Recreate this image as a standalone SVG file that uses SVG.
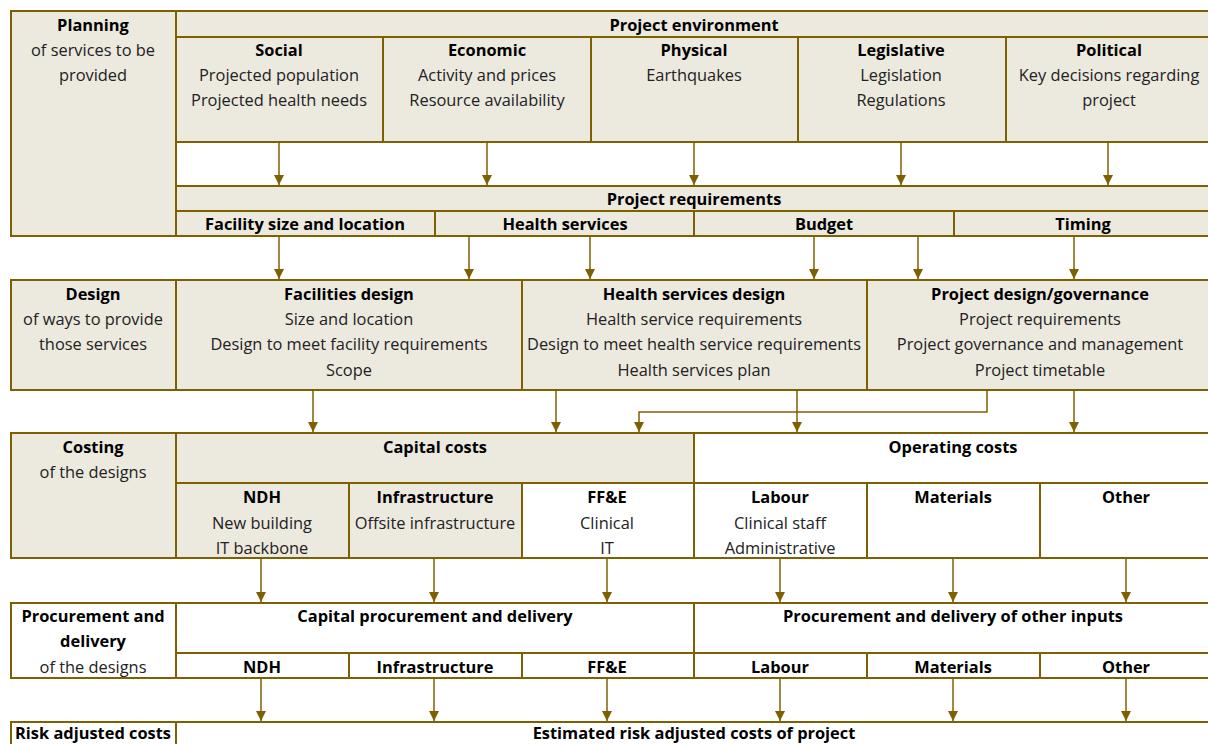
<svg xmlns="http://www.w3.org/2000/svg" width="1208" height="744" viewBox="0 0 1208 744">
<style>
.b{fill:#ECE9DF;stroke:#7F6000;stroke-width:2}
.w{fill:#FFFFFF;stroke:#7F6000;stroke-width:2}
text{font-family:"Open Sans","Noto Sans","Liberation Sans",sans-serif;font-size:16.4px;fill:#222;text-anchor:middle}
.h{font-weight:bold;fill:#000}
.c{fill:none;stroke:#7F6000;stroke-width:1.5;marker-end:url(#ah)}
</style>
<defs>
<marker id="ah" markerUnits="userSpaceOnUse" markerWidth="11" markerHeight="11" refX="10" refY="5" orient="auto">
<path d="M0,0 L10,5 L0,10 z" fill="#7F6000"/>
</marker>
</defs>
<rect width="1208" height="744" fill="#fff"/>

<g id="planning">
<rect class="b" x="11" y="11" width="165" height="225"/>
<text class="h" x="93" y="31">Planning</text>
<text x="93" y="56">of services to be</text>
<text x="93" y="81">provided</text>
</g>
<g id="project-environment">
<rect class="b" x="176" y="11" width="1037" height="26"/>
<text class="h" x="694" y="31">Project environment</text>
</g>
<g id="social">
<rect class="b" x="176" y="37" width="207" height="105"/>
<text class="h" x="279" y="56">Social</text>
<text x="279" y="81">Projected population</text>
<text x="279" y="106">Projected health needs</text>
</g>
<g id="economic">
<rect class="b" x="383" y="37" width="208" height="105"/>
<text class="h" x="487" y="56">Economic</text>
<text x="487" y="81">Activity and prices</text>
<text x="487" y="106">Resource availability</text>
</g>
<g id="physical">
<rect class="b" x="591" y="37" width="207" height="105"/>
<text class="h" x="694" y="56">Physical</text>
<text x="694" y="81">Earthquakes</text>
</g>
<g id="legislative">
<rect class="b" x="798" y="37" width="208" height="105"/>
<text class="h" x="901" y="56">Legislative</text>
<text x="901" y="81">Legislation</text>
<text x="901" y="106">Regulations</text>
</g>
<g id="political">
<rect class="b" x="1006" y="37" width="207" height="105"/>
<text class="h" x="1109" y="56">Political</text>
<text x="1109" y="81">Key decisions regarding</text>
<text x="1109" y="106">project</text>
</g>
<g id="project-requirements">
<rect class="b" x="176" y="186" width="1037" height="25"/>
<text class="h" x="694" y="205">Project requirements</text>
</g>
<g id="req-facility">
<rect class="b" x="176" y="211" width="259" height="25"/>
<text class="h" x="305" y="230">Facility size and location</text>
</g>
<g id="req-health">
<rect class="b" x="435" y="211" width="259" height="25"/>
<text class="h" x="565" y="230">Health services</text>
</g>
<g id="req-budget">
<rect class="b" x="694" y="211" width="260" height="25"/>
<text class="h" x="824" y="230">Budget</text>
</g>
<g id="req-timing">
<rect class="b" x="954" y="211" width="259" height="25"/>
<text class="h" x="1083" y="230">Timing</text>
</g>

<g id="design">
<rect class="b" x="11" y="280" width="165" height="110"/>
<text class="h" x="93" y="300">Design</text>
<text x="93" y="325">of ways to provide</text>
<text x="93" y="350">those services</text>
</g>
<g id="facilities-design">
<rect class="b" x="176" y="280" width="346" height="110"/>
<text class="h" x="349" y="300">Facilities design</text>
<text x="349" y="325">Size and location</text>
<text x="349" y="350">Design to meet facility requirements</text>
<text x="349" y="376">Scope</text>
</g>
<g id="health-services-design">
<rect class="b" x="522" y="280" width="345" height="110"/>
<text class="h" x="694" y="300">Health services design</text>
<text x="694" y="325">Health service requirements</text>
<text x="694" y="350">Design to meet health service requirements</text>
<text x="694" y="376">Health services plan</text>
</g>
<g id="project-design">
<rect class="b" x="867" y="280" width="346" height="110"/>
<text class="h" x="1040" y="300">Project design/governance</text>
<text x="1040" y="325">Project requirements</text>
<text x="1040" y="350">Project governance and management</text>
<text x="1040" y="376">Project timetable</text>
</g>

<g id="costing">
<rect class="b" x="11" y="433" width="165" height="125"/>
<text class="h" x="93" y="453">Costing</text>
<text x="93" y="478">of the designs</text>
</g>
<g id="capital-costs">
<rect class="b" x="176" y="433" width="518" height="50"/>
<text class="h" x="435" y="453">Capital costs</text>
</g>
<g id="operating-costs">
<rect class="w" x="694" y="433" width="519" height="50"/>
<text class="h" x="953" y="453">Operating costs</text>
</g>
<g id="cost-ndh">
<rect class="b" x="176" y="483" width="173" height="75"/>
<text class="h" x="262" y="503">NDH</text>
<text x="262" y="529">New building</text>
<text x="262" y="554">IT backbone</text>
</g>
<g id="cost-infrastructure">
<rect class="b" x="349" y="483" width="173" height="75"/>
<text class="h" x="435" y="503">Infrastructure</text>
<text x="435" y="529">Offsite infrastructure</text>
</g>
<g id="cost-ffe">
<rect class="w" x="522" y="483" width="172" height="75"/>
<text class="h" x="607" y="503">FF&amp;E</text>
<text x="607" y="529">Clinical</text>
<text x="607" y="554">IT</text>
</g>
<g id="cost-labour">
<rect class="w" x="694" y="483" width="173" height="75"/>
<text class="h" x="780" y="503">Labour</text>
<text x="780" y="529">Clinical staff</text>
<text x="780" y="554">Administrative</text>
</g>
<g id="cost-materials">
<rect class="w" x="867" y="483" width="173" height="75"/>
<text class="h" x="953" y="503">Materials</text>
</g>
<g id="cost-other">
<rect class="w" x="1040" y="483" width="173" height="75"/>
<text class="h" x="1126" y="503">Other</text>
</g>

<g id="procurement">
<rect class="w" x="11" y="603" width="165" height="75"/>
<text class="h" x="93" y="622">Procurement and</text>
<text class="h" x="93" y="647">delivery</text>
<text x="93" y="673">of the designs</text>
</g>
<g id="capital-procurement">
<rect class="w" x="176" y="603" width="518" height="50"/>
<text class="h" x="435" y="622">Capital procurement and delivery</text>
</g>
<g id="other-procurement">
<rect class="w" x="694" y="603" width="519" height="50"/>
<text class="h" x="953" y="622">Procurement and delivery of other inputs</text>
</g>
<g id="proc-ndh">
<rect class="w" x="176" y="653" width="173" height="25"/>
<text class="h" x="262" y="673">NDH</text>
</g>
<g id="proc-infrastructure">
<rect class="w" x="349" y="653" width="173" height="25"/>
<text class="h" x="435" y="673">Infrastructure</text>
</g>
<g id="proc-ffe">
<rect class="w" x="522" y="653" width="172" height="25"/>
<text class="h" x="607" y="673">FF&amp;E</text>
</g>
<g id="proc-labour">
<rect class="w" x="694" y="653" width="173" height="25"/>
<text class="h" x="780" y="673">Labour</text>
</g>
<g id="proc-materials">
<rect class="w" x="867" y="653" width="173" height="25"/>
<text class="h" x="953" y="673">Materials</text>
</g>
<g id="proc-other">
<rect class="w" x="1040" y="653" width="173" height="25"/>
<text class="h" x="1126" y="673">Other</text>
</g>

<g id="risk-adjusted">
<rect class="w" x="11" y="722" width="165" height="40"/>
<text class="h" x="93" y="739">Risk adjusted costs</text>
</g>
<g id="estimated-costs">
<rect class="w" x="176" y="722" width="1037" height="40"/>
<text class="h" x="694" y="739">Estimated risk adjusted costs of project</text>
</g>

<g id="connectors">
<path class="c" d="M279,143 V185"/>
<path class="c" d="M487,143 V185"/>
<path class="c" d="M694,143 V185"/>
<path class="c" d="M901,143 V185"/>
<path class="c" d="M1108,143 V185"/>
<path class="c" d="M279,237 V279"/>
<path class="c" d="M469,237 V279"/>
<path class="c" d="M590,237 V279"/>
<path class="c" d="M814,237 V279"/>
<path class="c" d="M918,237 V279"/>
<path class="c" d="M1074,237 V279"/>
<path class="c" d="M313,391 V432"/>
<path class="c" d="M556,391 V432"/>
<path class="c" d="M797,391 V432"/>
<path class="c" d="M1074,391 V432"/>
<path class="c" d="M987,391 V412 H639 V432"/>
<path class="c" d="M261,559 V602"/>
<path class="c" d="M434,559 V602"/>
<path class="c" d="M607,559 V602"/>
<path class="c" d="M780,559 V602"/>
<path class="c" d="M953,559 V602"/>
<path class="c" d="M1126,559 V602"/>
<path class="c" d="M261,679 V721"/>
<path class="c" d="M434,679 V721"/>
<path class="c" d="M607,679 V721"/>
<path class="c" d="M780,679 V721"/>
<path class="c" d="M953,679 V721"/>
<path class="c" d="M1126,679 V721"/>
</g>
</svg>
